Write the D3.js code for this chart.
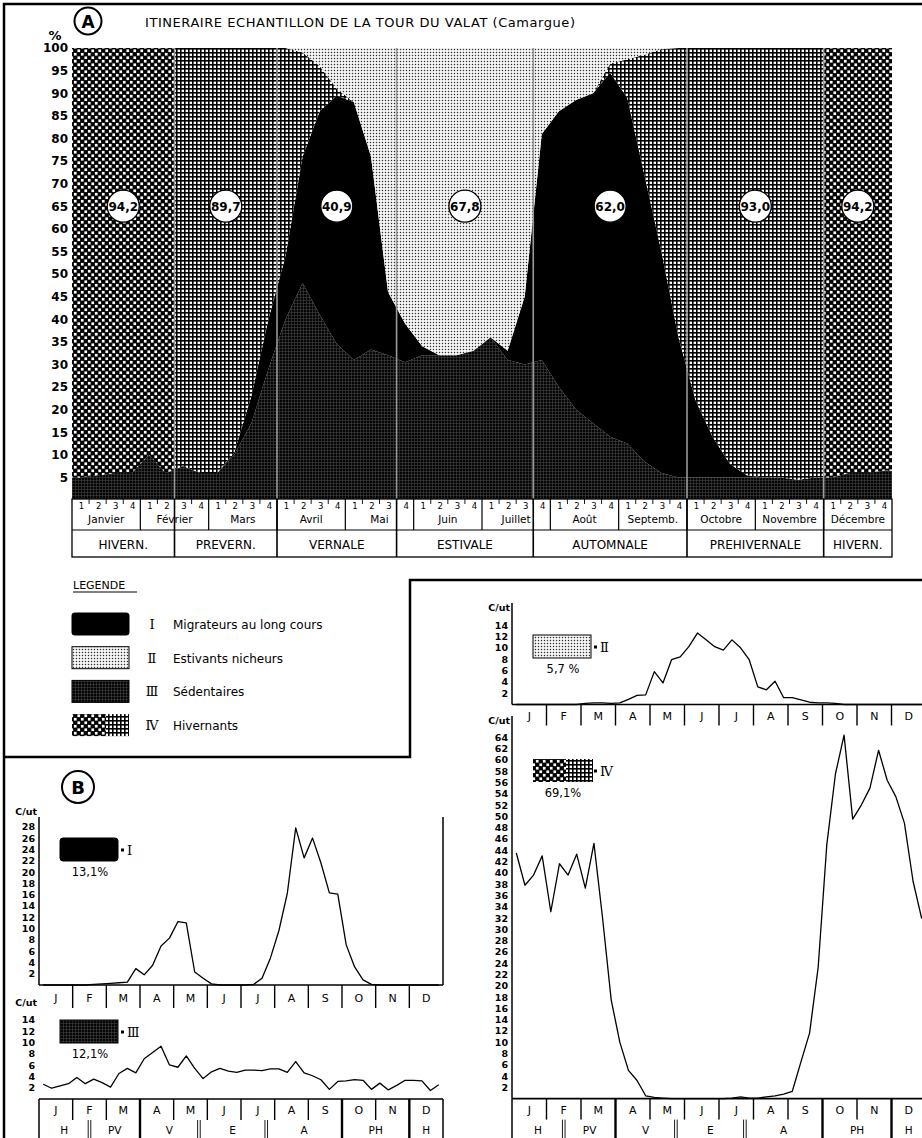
<!DOCTYPE html>
<html>
<head>
<meta charset="utf-8">
<script src="https://d3js.org/d3.v7.min.js"></script>
<style>
body { margin: 0; background: #fff; }
svg { display: block; font-family: "DejaVu Sans", sans-serif; }
</style>
</head>
<body>
<script>
// ---------- data ----------
var months = ["Janvier", "Février", "Mars", "Avril", "Mai", "Juin", "Juillet", "Août", "Septemb.", "Octobre", "Novembre", "Décembre"];
var monthInitials = ["J", "F", "M", "A", "M", "J", "J", "A", "S", "O", "N", "D"];
var seasonNames = ["HIVERN.", "PREVERN.", "VERNALE", "ESTIVALE", "AUTOMNALE", "PREHIVERNALE", "HIVERN."];
var seasonShort = ["H", "PV", "V", "E", "A", "PH", "H"];
var seasonBreaks = [0, 6, 12, 19, 27, 36, 44, 48]; // in weeks
var seasonTotals = ["94,2", "89,7", "40,9", "67,8", "62,0", "93,0", "94,2"];
var pctTicks = [5, 10, 15, 20, 25, 30, 35, 40, 45, 50, 55, 60, 65, 70, 75, 80, 85, 90, 95, 100];

// A : share of each group, % per week (48 weeks)
var sedentaires = [5, 5.5, 6, 6, 10, 6, 7.5, 6, 6, 10, 17, 29, 40, 48, 41, 34.5, 31, 33.3, 32, 30.5, 32, 32, 32, 33,
                   36, 31, 30, 31, 25, 20, 17, 14, 12.5, 8.5, 6, 5, 5, 5, 5, 5, 5, 5, 4.5, 5, 5, 6, 6, 6.5];
var migrateurs  = [0, 0, 0, 0, 0, 0, 0, 0, 0, 0.5, 6, 11, 14, 28, 45, 55, 57, 42.7, 14, 8.5, 2, 0, 0, 0,
                   0, 2, 15, 50, 61, 68.5, 73, 80.5, 76.5, 63.5, 49, 31, 17, 9, 3, 0.5, 0, 0, 0, 0, 0, 0, 0, 0];
var hivernants  = [95, 94.5, 94, 94, 90, 94, 92.5, 94, 94, 89.5, 77, 60, 46, 23, 10, 1.5, 0, 0, 0, 0, 0, 0, 0, 0,
                   0, 0, 0, 0, 0, 0, 0, 2, 8.5, 26.5, 44.8, 64, 78, 86, 92, 94.5, 95, 95, 95.5, 95, 95, 94, 94, 93.5];
var estivants   = [0, 0, 0, 0, 0, 0, 0, 0, 0, 0, 0, 0, 0, 1, 4, 9, 12, 24, 54, 61, 66, 68, 68, 67,
                   64, 67, 55, 19, 14, 11.5, 10, 3.5, 2.5, 1.5, 0.2, 0, 0, 0, 0, 0, 0, 0, 0, 0, 0, 0, 0, 0];

// B : C/ut per week
var cutMigrateurs = [0, 0, 0, 0, 0, 0, 0.1, 0.2, 0.3, 0.4, 0.5, 2.9, 1.8, 3.5, 6.9, 8.3, 11.2, 11, 2.3, 1.2, 0.2, 0, 0, 0,
                     0, 0.1, 1.2, 4.8, 9.6, 16.2, 27.8, 22.5, 26, 21.6, 16.3, 16.1, 7.1, 3.2, 0.9, 0.1, 0, 0, 0, 0, 0, 0, 0, 0];
var cutSedentaires = [2.6, 1.9, 2.3, 2.7, 3.8, 2.7, 3.5, 2.9, 2.1, 4.5, 5.4, 4.6, 7.1, 8.2, 9.3, 6.0, 5.6, 7.6, 5.4, 3.6, 4.8, 5.4, 4.9, 4.7,
                      5.1, 5.1, 5.0, 5.3, 5.3, 4.7, 6.6, 4.6, 4.1, 3.4, 1.7, 3.1, 3.2, 3.4, 3.3, 1.7, 2.8, 1.6, 2.4, 3.3, 3.3, 3.2, 1.5, 2.5];
var cutEstivants = [0, 0, 0, 0, 0, 0, 0, 0, 0.2, 0.3, 0.3, 0.2, 0.3, 0.9, 1.6, 1.7, 5.8, 3.8, 7.9, 8.4, 10.2, 12.6, 11.4, 10.2,
                    9.6, 11.4, 10, 7.9, 3.1, 2.6, 4.1, 1.2, 1.2, 0.8, 0.4, 0.3, 0.3, 0.2, 0, 0, 0, 0, 0, 0, 0, 0, 0, 0];
var cutHivernants = [43.5, 37.8, 39.6, 43, 33.1, 41.6, 39.6, 43.3, 37.3, 45.2, 32, 17.5, 10, 5, 3.2, 0.5, 0.2, 0.1, 0, 0, 0, 0, 0, 0,
                     0, 0.1, 0.3, 0.1, 0.1, 0.3, 0.5, 0.8, 1.3, 6.5, 11.6, 23.3, 45, 57.5, 64.4, 49.5, 52, 55, 61.7, 56.4, 53.5, 48.8, 38.5, 31.9];

var legendLabels = ["Migrateurs au long cours", "Estivants nicheurs", "Sédentaires", "Hivernants"];
var numerals = ["Ⅰ", "Ⅱ", "Ⅲ", "Ⅳ"];

// ---------- svg + patterns ----------
var svg = d3.select("body").append("svg").attr("width", 922).attr("height", 1138);
var defs = svg.append("defs");

function pattern(id, size, draw) {
  var p = defs.append("pattern").attr("id", id).attr("patternUnits", "userSpaceOnUse")
              .attr("width", size).attr("height", size);
  draw(p, size);
}
pattern("pSed", 3, function(p, s) {
  p.append("rect").attr("width", s).attr("height", s).attr("fill", "#050505");
  p.append("rect").attr("width", s).attr("height", 0.5).attr("fill", "#4a4a4a");
  p.append("rect").attr("width", 0.5).attr("height", s).attr("fill", "#4a4a4a");
});
pattern("pEst", 3, function(p, s) {
  p.append("rect").attr("width", s).attr("height", s).attr("fill", "#fff");
  p.append("rect").attr("x", 0.8).attr("y", 0.8).attr("width", 1.4).attr("height", 1.4).attr("fill", "#333");
});
pattern("pHivW", 7, function(p, s) {
  p.append("rect").attr("width", s).attr("height", s).attr("fill", "#000");
  p.append("rect").attr("x", 0.4).attr("y", 0.4).attr("width", 2.7).attr("height", 2.7).attr("fill", "#fff");
  p.append("rect").attr("x", 3.9).attr("y", 3.9).attr("width", 2.7).attr("height", 2.7).attr("fill", "#fff");
});
pattern("pHivG", 4, function(p, s) {
  p.append("rect").attr("width", s).attr("height", s).attr("fill", "#fff");
  p.append("rect").attr("width", s).attr("height", 1.6).attr("fill", "#000");
  p.append("rect").attr("width", 1.6).attr("height", s).attr("fill", "#000");
});

// ---------- panel A ----------
var xA = d3.scaleLinear().domain([0, 48]).range([72, 892]);
var yA = d3.scaleLinear().domain([0, 100]).range([500, 48]);

defs.append("clipPath").attr("id", "clipA").append("rect")
    .attr("x", xA(0)).attr("y", yA(100)).attr("width", xA(48) - xA(0)).attr("height", yA(0) - yA(100));
var clipW = defs.append("clipPath").attr("id", "clipWinter");
[0, 6].forEach(function(s) {
  clipW.append("rect").attr("x", xA(seasonBreaks[s])).attr("y", 0)
       .attr("width", xA(seasonBreaks[s + 1]) - xA(seasonBreaks[s])).attr("height", 600);
});

var rowsA = sedentaires.map(function(v, i) {
  return { i: i, sed: v, mig: migrateurs[i], hiv: hivernants[i], est: estivants[i] };
});
var layers = d3.stack().keys(["sed", "mig", "hiv", "est"])(rowsA);

function edgePoints(layer) {
  var pts = layer.map(function(d) { return { pos: d.data.i + 0.5, lo: d[0], hi: d[1] }; });
  pts.unshift({ pos: 0, lo: pts[0].lo, hi: pts[0].hi });
  pts.push({ pos: 48, lo: pts[pts.length - 1].lo, hi: pts[pts.length - 1].hi });
  return pts;
}
var areaA = d3.area()
  .x(function(d) { return xA(d.pos); })
  .y0(function(d) { return yA(d.lo); })
  .y1(function(d) { return yA(d.hi); });
var fills = { sed: "url(#pSed)", mig: "#000", hiv: "url(#pHivG)", est: "url(#pEst)" };

var plot = svg.append("g").attr("clip-path", "url(#clipA)");
layers.forEach(function(layer) {
  var pts = edgePoints(layer);
  plot.append("path").attr("d", areaA(pts)).attr("fill", fills[layer.key]);
  if (layer.key === "hiv") {
    plot.append("path").attr("d", areaA(pts)).attr("fill", "url(#pHivW)").attr("clip-path", "url(#clipWinter)");
  }
});

// season separators inside the plot
seasonBreaks.slice(1, -1).forEach(function(b) {
  svg.append("line").attr("x1", xA(b)).attr("x2", xA(b)).attr("y1", yA(100)).attr("y2", yA(0))
     .attr("stroke", "#999").attr("stroke-width", 1.6);
});

// season totals
seasonTotals.forEach(function(t, s) {
  var cx = (xA(seasonBreaks[s]) + xA(seasonBreaks[s + 1])) / 2, cy = yA(65);
  svg.append("circle").attr("cx", cx).attr("cy", cy).attr("r", 16)
     .attr("fill", "#fff").attr("stroke", "#000").attr("stroke-width", 1.3);
  svg.append("text").attr("x", cx).attr("y", cy + 4.5).attr("text-anchor", "middle")
     .attr("font-size", 12).attr("font-weight", "bold").text(t);
});

// y axis
svg.append("g").attr("transform", "translate(" + xA(0) + ",0)")
   .call(d3.axisLeft(yA).tickValues(pctTicks).tickSize(0).tickPadding(4))
   .call(function(g) { g.select(".domain").remove(); })
   .attr("font-family", "DejaVu Sans").attr("font-size", 12).attr("font-weight", "bold");
svg.append("text").attr("x", 55).attr("y", 40).attr("text-anchor", "middle")
   .attr("font-size", 13).attr("font-weight", "bold").text("%");

// title
svg.append("circle").attr("cx", 88).attr("cy", 21).attr("r", 13.5)
   .attr("fill", "none").attr("stroke", "#000").attr("stroke-width", 2);
svg.append("text").attr("x", 88).attr("y", 27.5).attr("text-anchor", "middle")
   .attr("font-size", 17).attr("font-weight", "bold").text("A");
svg.append("text").attr("x", 145).attr("y", 27).attr("font-size", 13)
   .attr("textLength", 430).attr("lengthAdjust", "spacing")
   .text("ITINERAIRE ECHANTILLON DE LA TOUR DU VALAT (Camargue)");

// axis box under A
var boxTop = 499, boxMid = 530, boxBot = 557;
svg.append("rect").attr("x", xA(0)).attr("y", boxTop).attr("width", xA(48) - xA(0)).attr("height", boxBot - boxTop)
   .attr("fill", "#fff").attr("stroke", "#000").attr("stroke-width", 1.3);
svg.append("line").attr("x1", xA(0)).attr("x2", xA(48)).attr("y1", boxMid).attr("y2", boxMid)
   .attr("stroke", "#000").attr("stroke-width", 1.2);
d3.range(1, 48).forEach(function(k) {
  svg.append("line").attr("x1", xA(k)).attr("x2", xA(k)).attr("y1", boxTop)
     .attr("y2", k % 4 ? boxTop + 5 : boxMid).attr("stroke", "#000").attr("stroke-width", k % 4 ? 0.9 : 1.2);
});
seasonBreaks.slice(1, -1).forEach(function(b) {
  svg.append("line").attr("x1", xA(b)).attr("x2", xA(b)).attr("y1", boxTop).attr("y2", boxBot)
     .attr("stroke", "#000").attr("stroke-width", 1.6);
});
d3.range(48).forEach(function(i) {
  svg.append("text").attr("x", xA(i + 0.5) + 1).attr("y", boxTop + 10).attr("text-anchor", "middle")
     .attr("font-size", 8.5).text(i % 4 + 1);
});
months.forEach(function(m, k) {
  svg.append("text").attr("x", xA(k * 4 + 2)).attr("y", boxTop + 24).attr("text-anchor", "middle")
     .attr("font-size", 10.5).text(m);
});
seasonNames.forEach(function(n, s) {
  svg.append("text").attr("x", (xA(seasonBreaks[s]) + xA(seasonBreaks[s + 1])) / 2).attr("y", boxBot - 8)
     .attr("text-anchor", "middle").attr("font-size", 12).text(n);
});

// frames
svg.append("path").attr("d", "M4,1138V4H922M4,757H410V580H922")
   .attr("fill", "none").attr("stroke", "#000").attr("stroke-width", 2.5);

// legend
svg.append("text").attr("x", 73).attr("y", 589).attr("font-size", 11).text("LEGENDE");
svg.append("line").attr("x1", 73).attr("x2", 137).attr("y1", 592).attr("y2", 592).attr("stroke", "#000");
var legendFills = ["#000", "url(#pEst)", "url(#pSed)", null];
legendLabels.forEach(function(l, k) {
  var y0 = 613 + k * 33.7;
  if (k === 3) {
    svg.append("rect").attr("x", 72).attr("y", y0).attr("width", 34).attr("height", 22).attr("fill", "url(#pHivW)");
    svg.append("rect").attr("x", 106).attr("y", y0).attr("width", 23).attr("height", 22).attr("fill", "url(#pHivG)");
  } else {
    svg.append("rect").attr("x", 72).attr("y", y0).attr("width", 57).attr("height", 22).attr("rx", k === 0 ? 2.5 : 0)
       .attr("fill", legendFills[k]).attr("stroke", "#000").attr("stroke-width", 1);
  }
  svg.append("text").attr("x", 152).attr("y", y0 + 16).attr("text-anchor", "middle")
     .attr("font-family", "DejaVu Serif").attr("font-size", 13).text(numerals[k]);
  svg.append("text").attr("x", 173).attr("y", y0 + 16).attr("font-size", 12).text(l);
});

// ---------- panel B ----------
svg.append("circle").attr("cx", 78).attr("cy", 787).attr("r", 16)
   .attr("fill", "none").attr("stroke", "#000").attr("stroke-width", 2);
svg.append("text").attr("x", 78).attr("y", 793.5).attr("text-anchor", "middle")
   .attr("font-size", 18).attr("font-weight", "bold").text("B");

function countChart(o) {
  var g = svg.append("g");
  var x = d3.scaleLinear().domain([0, 48]).range([o.x0, o.x1]);
  var y = d3.scaleLinear().domain([0, 10]).range([o.base, o.base - 10 * o.unit]);

  g.append("g").attr("transform", "translate(" + o.x0 + ",0)")
   .call(d3.axisLeft(y).tickValues(o.ticks).tickSize(0).tickPadding(4))
   .call(function(a) { a.select(".domain").remove(); })
   .attr("font-family", "DejaVu Sans").attr("font-size", 9.5).attr("font-weight", "bold");
  g.append("text").attr("x", o.x0 - 2).attr("y", o.cutY).attr("text-anchor", "end")
   .attr("font-size", 9.5).attr("font-weight", "bold").text("C/ut");
  if (o.axisTop) {
    g.append("line").attr("x1", o.x0).attr("x2", o.x0).attr("y1", o.axisTop).attr("y2", o.base)
     .attr("stroke", "#000").attr("stroke-width", 1.5);
  }
  if (o.rightTop) {
    g.append("line").attr("x1", o.x1).attr("x2", o.x1).attr("y1", o.rightTop).attr("y2", o.base)
     .attr("stroke", "#000").attr("stroke-width", 1.5);
  }
  g.append("line").attr("x1", o.x0).attr("x2", o.x1).attr("y1", o.base).attr("y2", o.base)
   .attr("stroke", "#000").attr("stroke-width", 1.6);

  g.append("path").datum(o.values)
   .attr("d", d3.line().x(function(d, i) { return x(i + 0.5); }).y(function(d) { return y(d); }))
   .attr("fill", "none").attr("stroke", "#000").attr("stroke-width", 1.3).attr("stroke-linejoin", "round");

  // month row
  var rowB = o.base + o.rowH;
  d3.range(1, 12).forEach(function(m) {
    var thick = o.seasons && seasonBreaks.indexOf(m * 4) > 0;
    g.append("line").attr("x1", x(m * 4)).attr("x2", x(m * 4)).attr("y1", o.base)
     .attr("y2", thick ? 1138 : rowB).attr("stroke", "#000").attr("stroke-width", thick ? 2.4 : 1.4);
  });
  monthInitials.forEach(function(m, k) {
    g.append("text").attr("x", x(k * 4 + 2)).attr("y", o.base + o.rowH - 6).attr("text-anchor", "middle")
     .attr("font-size", 11).text(m);
  });

  if (o.seasons) {
    [o.x0, o.x1].forEach(function(xx) {
      g.append("line").attr("x1", xx).attr("x2", xx).attr("y1", o.base).attr("y2", 1138)
       .attr("stroke", "#000").attr("stroke-width", 1.5);
    });
    seasonBreaks.slice(1, -1).forEach(function(b) {
      if (b % 4 === 0) return;
      [-1.3, 1.3].forEach(function(dx) {
        g.append("line").attr("x1", x(b) + dx).attr("x2", x(b) + dx).attr("y1", rowB).attr("y2", 1138)
         .attr("stroke", "#000").attr("stroke-width", 0.9);
      });
    });
    seasonShort.forEach(function(s, k) {
      g.append("text").attr("x", (x(seasonBreaks[k]) + x(seasonBreaks[k + 1])) / 2).attr("y", 1134)
       .attr("text-anchor", "middle").attr("font-size", 10.5).text(s);
    });
  }

  // key swatch
  var sw = o.swatch;
  if (sw.split) {
    g.append("rect").attr("x", sw.x).attr("y", sw.y).attr("width", 33).attr("height", 23).attr("fill", "url(#pHivW)");
    g.append("rect").attr("x", sw.x + 33).attr("y", sw.y).attr("width", 27).attr("height", 23).attr("fill", "url(#pHivG)");
  } else {
    g.append("rect").attr("x", sw.x).attr("y", sw.y).attr("width", 58).attr("height", 23).attr("rx", sw.rx || 0)
     .attr("fill", sw.fill).attr("stroke", "#000").attr("stroke-width", 1);
  }
  g.append("rect").attr("x", sw.x + 61).attr("y", sw.y + 10.5).attr("width", 3).attr("height", 3).attr("fill", "#000");
  g.append("text").attr("x", sw.x + 67).attr("y", sw.y + 16.5).attr("font-family", "DejaVu Serif")
   .attr("font-size", 13).text(sw.numeral);
  g.append("text").attr("x", sw.x + 30).attr("y", sw.y + 38).attr("text-anchor", "middle")
   .attr("font-size", 11.5).text(sw.pct);
}

countChart({ x0: 39, x1: 443, base: 985, unit: 5.65, ticks: d3.range(2, 29, 2), values: cutMigrateurs,
             axisTop: 817, rightTop: 817, cutY: 815, rowH: 23, seasons: false,
             swatch: { x: 60, y: 838, fill: "#000", rx: 3, numeral: numerals[0], pct: "13,1%" } });
countChart({ x0: 39, x1: 443, base: 1099, unit: 5.67, ticks: d3.range(2, 15, 2), values: cutSedentaires,
             cutY: 1006, rowH: 21, seasons: true,
             swatch: { x: 60, y: 1020, fill: "url(#pSed)", numeral: numerals[2], pct: "12,1%" } });
countChart({ x0: 512, x1: 926, base: 704.5, unit: 5.67, ticks: d3.range(2, 15, 2), values: cutEstivants,
             axisTop: 603, cutY: 611, rowH: 21, seasons: false,
             swatch: { x: 533, y: 635, fill: "url(#pEst)", numeral: numerals[1], pct: "5,7 %" } });
countChart({ x0: 512, x1: 926, base: 1098.6, unit: 5.645, ticks: d3.range(2, 65, 2), values: cutHivernants,
             axisTop: 716, cutY: 724, rowH: 21, seasons: true,
             swatch: { x: 533, y: 759, split: true, numeral: numerals[3], pct: "69,1%" } });
</script>
</body>
</html>
